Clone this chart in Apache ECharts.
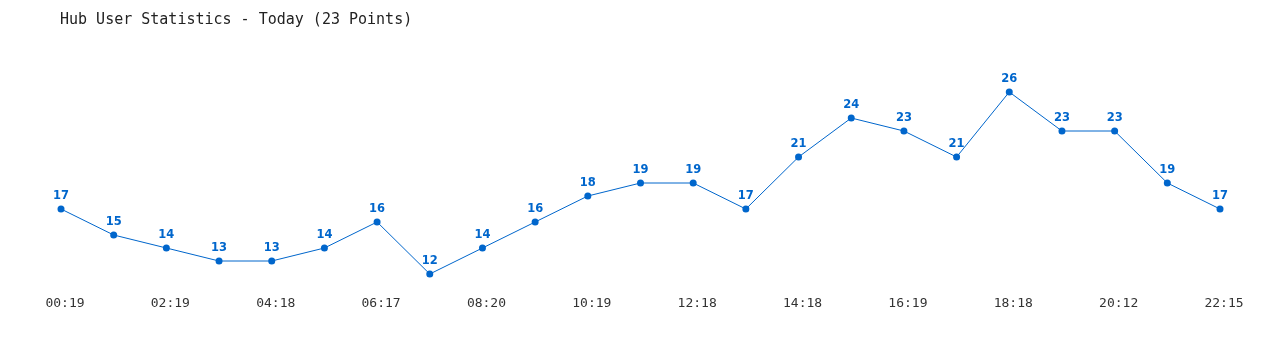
<!DOCTYPE html>
<html>
<head>
<meta charset="utf-8">
<script src="https://cdn.jsdelivr.net/npm/echarts@6/dist/echarts.min.js"></script>
<style>html,body{margin:0;padding:0;background:#fff;}#c{width:1280px;height:350px;}</style>
</head>
<body>
<div id="c"></div>
<script>
const titleText = "Hub User Statistics - Today (23 Points)";
const times = ["00:19","01:19","02:19","03:19","04:18","05:18","06:17","07:18","08:20","09:20","10:19","11:19","12:18","13:18","14:18","15:18","16:19","17:19","18:18","19:15","20:12","21:13","22:15"];
const users = [17,15,14,13,13,14,16,12,14,16,18,19,19,17,21,24,23,21,26,23,23,19,17];

const chart = echarts.init(document.getElementById('c'), null, {renderer:'canvas'});
chart.setOption({
  animation:false,
  backgroundColor:'#fff',
  title:{text:titleText,left:55,top:8,textStyle:{fontFamily:'DejaVu Sans Mono, monospace',fontSize:15,fontWeight:'normal',color:'#222'}},
  grid:{left:61,right:60,top:79,bottom:63},
  xAxis:{type:'category',data:times,boundaryGap:false,
    axisLine:{show:false},axisTick:{show:false},splitLine:{show:false},
    axisLabel:{interval:1,margin:10,padding:[0,0,0,8],fontFamily:'DejaVu Sans Mono, monospace',fontSize:13,color:'#333'}},
  yAxis:{type:'value',min:11,max:27,show:false},
  series:[{type:'line',data:users,symbol:'circle',symbolSize:7,
    lineStyle:{color:'#0066cc',width:1},itemStyle:{color:'#0066cc'},
    label:{show:true,position:'top',distance:3,fontFamily:'Verdana, DejaVu Sans, sans-serif',fontWeight:'bold',fontSize:11.5,color:'#0066cc'}}]
});
</script>
</body>
</html>
